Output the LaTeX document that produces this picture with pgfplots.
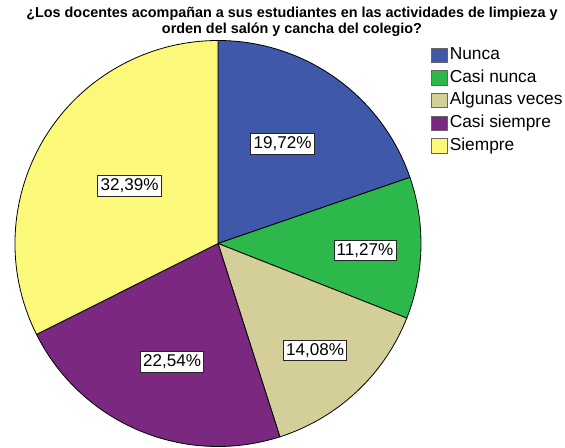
\documentclass[border=0pt]{standalone}
\usepackage{pgfplots}
\pgfplotsset{compat=1.18}
\usepackage{pgfplotstable}
\usepackage{fontspec}
\setmainfont{Liberation Sans}
\definecolor{c0}{HTML}{3F58AA}
\definecolor{c1}{HTML}{2DB84B}
\definecolor{c2}{HTML}{D4CE98}
\definecolor{c3}{HTML}{7A2880}
\definecolor{c4}{HTML}{FCF97A}
% value (percent), label position (px, y from bottom)
\pgfplotstableread[col sep=comma]{
idx,pct,lx,ly
0,19.72,282.5,304
1,11.27,365,197.5
2,14.08,315,97.5
3,22.54,172,86
4,32.39,129.5,262
}\pietable
\def\cum{90}%
\foreach \i in {0,...,4}{%
  \pgfplotstablegetelem{\i}{pct}\of\pietable
  \let\p\pgfplotsretval
  \pgfmathsetmacro\ea{\cum-3.6*\p}%
  \expandafter\xdef\csname sa\i\endcsname{\cum}%
  \expandafter\xdef\csname ea\i\endcsname{\ea}%
  \expandafter\xdef\csname pc\i\endcsname{\p}%
  \pgfplotstablegetelem{\i}{lx}\of\pietable
  \expandafter\xdef\csname lx\i\endcsname{\pgfplotsretval}%
  \pgfplotstablegetelem{\i}{ly}\of\pietable
  \expandafter\xdef\csname ly\i\endcsname{\pgfplotsretval}%
  \xdef\cum{\ea}%
}%
\begin{document}
\begin{tikzpicture}
\begin{axis}[hide axis, scale only axis, width=423.75pt, height=336pt,
  xmin=0, xmax=565, ymin=0, ymax=448, clip=false,
  legend style={at={(axis cs:431,404.5)}, anchor=north west, draw=none, fill=none,
    font=\fontsize{13}{14}\selectfont, inner sep=0pt,
    nodes={text height=9pt, text depth=2.5pt, inner ysep=2.75pt, inner xsep=1.5pt}},
  legend cell align=left,
  legend image code/.code={\draw[#1] (0pt,-5.4pt) rectangle (12pt,5.4pt);}]
\coordinate (bbsw) at (rel axis cs:0,0);
\coordinate (bbne) at (rel axis cs:1,1);
\pgfplotsinvokeforeach{0,...,4}{%
  \filldraw[overlay, fill=c#1, draw=black, line width=0.6pt]
    (axis cs:218,204.5) -- ++(\csname sa#1\endcsname:152.25pt)
    arc[start angle=\csname sa#1\endcsname, end angle=\csname ea#1\endcsname, radius=152.25pt] -- cycle;
}
\pgfplotsinvokeforeach{0,...,4}{%
  \node[draw=black!85, fill=white, line width=0.7pt, inner xsep=2pt, inner ysep=2.5pt,
    font=\fontsize{12.8}{14}\selectfont]
    at (axis cs:\csname lx#1\endcsname,\csname ly#1\endcsname)
    {\pgfmathprintnumber[fixed,fixed zerofill,precision=2,use comma,assume math mode=true]{\csname pc#1\endcsname}\%};
}
\addlegendimage{fill=c0, draw=black!60}\addlegendentry{Nunca}
\addlegendimage{fill=c1, draw=black!60}\addlegendentry{Casi nunca}
\addlegendimage{fill=c2, draw=black!60}\addlegendentry{Algunas veces}
\addlegendimage{fill=c3, draw=black!60}\addlegendentry{Casi siempre}
\addlegendimage{fill=c4, draw=black!60}\addlegendentry{Siempre}
\node[font=\bfseries\fontsize{10.8}{12}\selectfont, align=center] at (axis cs:292,426)
  {¿Los docentes acompañan a sus estudiantes en las actividades de limpieza y\\orden del salón y cancha del colegio?};
\end{axis}
\pgfresetboundingbox
\useasboundingbox (bbsw) rectangle (bbne);
\end{tikzpicture}
\end{document}
